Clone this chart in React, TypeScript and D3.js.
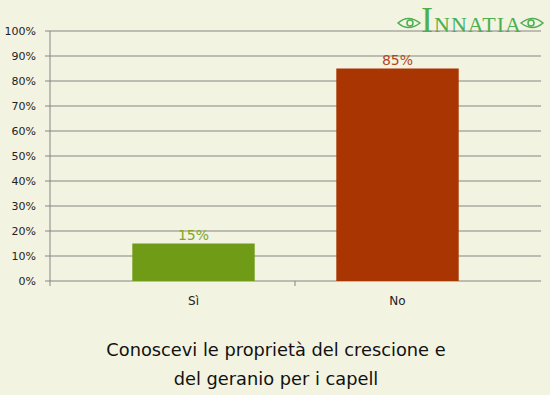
import React from 'react';
import * as d3 from 'd3';

const categories = ['Sì', 'No'];
const values = [15, 85];
const barColors = ['#6f9b16', '#a93502'];
const labelColors = ['#7ea62a', '#b5461a'];
const yTicks = [0, 10, 20, 30, 40, 50, 60, 70, 80, 90, 100];
const titleLines = ['Conoscevi le proprietà del crescione e', 'del geranio per i capell'];

const W = 550;
const H = 395;
const axisX = 50;
const plotRight = 541;
const top = 31;
const bottom = 281;

const App: React.FC = () => {
  const y = d3.scaleLinear().domain([0, 100]).range([bottom, top]);
  const x = d3.scaleBand<string>().domain(categories).range([91.5, 499.5]).paddingInner(0.4).paddingOuter(0.2);
  const font = 'Verdana, "DejaVu Sans", sans-serif';

  return (
    <svg width={W} height={H} style={{ position: 'absolute', left: 0, top: 0, background: '#f3f3e2' }}>
      <rect width={W} height={H} fill="#f3f3e2" />
      {yTicks.map(t => (
        <g key={t}>
          <line x1={axisX - 5} x2={plotRight} y1={y(t)} y2={y(t)} stroke="#858585" strokeWidth={1} />
          <text x={36} y={y(t) + 4} textAnchor="end" fontSize={11} fontFamily={font} fill="#222">{t}%</text>
        </g>
      ))}
      <line x1={axisX} x2={axisX} y1={top} y2={bottom + 5} stroke="#858585" />
      <line x1={295} x2={295} y1={bottom} y2={bottom + 5} stroke="#858585" />
      {categories.map((c, i) => {
        const bx = x(c)!;
        const cx = bx + x.bandwidth() / 2;
        return (
          <g key={c}>
            <rect x={bx} y={y(values[i])} width={x.bandwidth()} height={bottom - y(values[i])} fill={barColors[i]} />
            <text x={cx} y={y(values[i]) - 4} textAnchor="middle" fontSize={14} fontFamily={font} fill={labelColors[i]}>{values[i]}%</text>
            <text x={cx} y={305} textAnchor="middle" fontSize={12} fontFamily={font} fill="#222">{c}</text>
          </g>
        );
      })}
      {titleLines.map((l, i) => (
        <text key={i} x={276} y={356 + i * 29} textAnchor="middle" fontSize={17.8} fontFamily={font} fill="#111">{l}</text>
      ))}
      <g fill="none" stroke="#4caf50" strokeWidth={1.5}>
        <path d="M398,23 Q408,14 420,23 Q408,32 398,23 Z" />
        <circle cx={410} cy={23} r={3} />
        <path d="M543,23 Q533,14 521,23 Q533,32 543,23 Z" />
        <circle cx={531} cy={23} r={3} />
      </g>
      <text x={421} y={32} fontFamily='"Liberation Serif", serif' fill="#4caf50" fontSize={36}>I</text>
      <text x={434} y={32} fontFamily='"Liberation Serif", serif' fill="#4caf50" fontSize={22}
        textLength={87} lengthAdjust="spacing">NNATIA</text>
    </svg>
  );
};

export default App;
